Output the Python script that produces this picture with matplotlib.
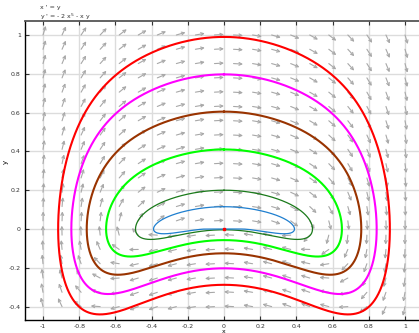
import numpy as np
import matplotlib
matplotlib.use("Agg")
import matplotlib.pyplot as plt

# ---- data ----
x_ticks = [-1, -0.8, -0.6, -0.4, -0.2, 0, 0.2, 0.4, 0.6, 0.8, 1]
y_ticks = [-0.4, -0.2, 0, 0.2, 0.4, 0.6, 0.8, 1]
x_tick_labels = ["-1", "-0.8", "-0.6", "-0.4", "-0.2", "0", "0.2", "0.4", "0.6", "0.8", "1"]
y_tick_labels = ["-0.4", "-0.2", "0", "0.2", "0.4", "0.6", "0.8", "1"]
# starting points of the trajectories (x0 = 0, y0)
start_y = [0.99, 0.797, 0.605, 0.41, 0.20, 0.115]
curve_colors = ["#ff0000", "#ff00ff", "#993300", "#00ff00", "#1a7a1a", "#1f7fcf"]
curve_widths = [1.5, 1.5, 1.5, 1.5, 0.9, 0.9]
field_x = np.linspace(-1, 1, 20)
field_y = np.linspace(-0.4, 1.0, 20)
eq_x = [0.0]
eq_y = [0.0]


def field(x, y):
    return y, -2 * x ** 5 - x * y


def half_orbit(y0, max_steps=200000):
    """Integrate from (0, y0) along the flow (arc-length parametrised)
    until x returns to 0 from the right."""
    def f(x, y):
        u, v = field(x, y)
        n = (u * u + v * v) ** 0.5 + 1e-300
        return u / n, v / n
    xs, ys = [0.0], [y0]
    x, y = 0.0, y0
    for _ in range(max_steps):
        ds = min(0.0015, max(1e-6, 0.05 * (abs(y) + x * x)))
        k1 = f(x, y)
        k2 = f(x + ds / 2 * k1[0], y + ds / 2 * k1[1])
        k3 = f(x + ds / 2 * k2[0], y + ds / 2 * k2[1])
        k4 = f(x + ds * k3[0], y + ds * k3[1])
        xn = x + ds / 6 * (k1[0] + 2 * k2[0] + 2 * k3[0] + k4[0])
        yn = y + ds / 6 * (k1[1] + 2 * k2[1] + 2 * k3[1] + k4[1])
        if xn <= 0 and len(xs) > 5:
            t = x / (x - xn)
            xs.append(0.0)
            ys.append(y + t * (yn - y))
            break
        xs.append(xn)
        ys.append(yn)
        x, y = xn, yn
    xs, ys = np.array(xs), np.array(ys)
    # reversible system: mirror the right half to close the orbit
    full_x = np.concatenate([xs, -xs[::-1]])
    full_y = np.concatenate([ys, ys[::-1]])
    return full_x, full_y


W, H = 419, 333
fig = plt.figure(figsize=(W / 100, H / 100), dpi=100)
xlim = (-1.1, 1.1)
ylim = (-0.47, 1.07)
ax = fig.add_axes([24.9 / W, (H - 320.2) / H, 398.2 / W, 298.8 / H])
ax.set_xlim(*xlim)
ax.set_ylim(*ylim)

ax.grid(True, color="#dcdcdc", lw=1.0, zorder=0)
ax.set_axisbelow(True)

# direction field (normalized arrows)
px_x = 398.2 / (xlim[1] - xlim[0])
px_y = 298.8 / (ylim[1] - ylim[0])
L = 9.5
for yy in field_y:
    for xx in field_x:
        u, v = field(xx, yy)
        pu, pv = u * px_x, v * px_y
        n = np.hypot(pu, pv)
        if n == 0:
            continue
        dx = L * pu / n / px_x
        dy = L * pv / n / px_y
        ax.annotate("", xy=(xx + dx, yy + dy), xytext=(xx, yy),
                    arrowprops=dict(arrowstyle="->", color="#a8a8a8", lw=0.8,
                                    shrinkA=0, shrinkB=0, mutation_scale=5),
                    zorder=1, annotation_clip=False)

for y0, c, lw in zip(start_y, curve_colors, curve_widths):
    xs, ys = half_orbit(y0)
    ax.plot(xs, ys, color=c, lw=lw, zorder=3)

ax.plot(eq_x, eq_y, "s", color="#ff0000", ms=1.8, zorder=4)

ax.set_xticks(x_ticks)
ax.set_xticklabels(x_tick_labels)
ax.set_yticks(y_ticks)
ax.set_yticklabels(y_tick_labels)
ax.tick_params(labelsize=4.5, direction="in", length=3, width=0.8, top=True,
               colors="#333333", pad=3)
for s in ["left", "bottom"]:
    ax.spines[s].set_linewidth(1.0)
ax.spines["top"].set_linewidth(1.3)
ax.spines["top"].set_color("#555555")
ax.spines["right"].set_visible(False)
ax.set_xlabel("x", fontsize=4.5, va="top")
ax.xaxis.set_label_coords(0.5, -(329.3 - 320.2) / 298.8)
ax.set_ylabel("y", fontsize=5)
ax.yaxis.set_label_coords(-(24.9 - 9) / 398.2, (320.2 - 162) / 298.8)

fig.text(40 / W, 1 - 8 / H, "x ' = y", fontsize=4.5, va="center", color="#333333")
fig.text(40 / W, 1 - 17 / H, r"y ' = - 2 x$^{5}$ - x y", fontsize=4.5, va="center", color="#333333")

fig.savefig("out.png", dpi=100)
